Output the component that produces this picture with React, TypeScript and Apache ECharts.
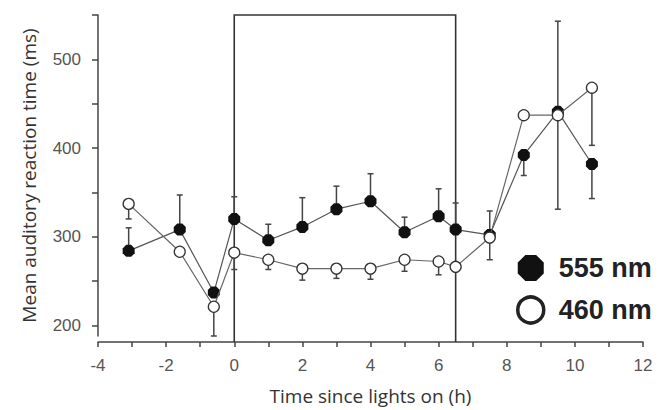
import React, { useEffect, useRef } from "react";
import * as echarts from "echarts";

// Time since lights on (h)
const times = [-3.1, -1.6, -0.6, 0, 1, 2, 3, 4, 5, 6, 6.5, 7.5, 8.5, 9.5, 10.5];
// Mean auditory reaction time (ms)
const rt555 = [284, 308, 237, 320, 296, 311, 331, 340, 305, 323, 308, 302, 392, 441, 382];
const rt460 = [337, 283, 221, 282, 274, 264, 264, 264, 274, 272, 266, 299, 437, 437, 468];
// End value of each one-sided error bar (null = no visible bar)
const err555 = [310, 347, null, 345, 314, 344, 357, 371, 322, 354, 338, 329, 369, 543, 343];
const err460 = [320, null, 188, 263, 263, 251, 253, 252, 261, 257, null, 274, null, 331, 403];

const yTickValues = [200, 250, 300, 350, 400, 450, 500, 550];
const yLabelValues = [200, 300, 400, 500];
const Y_MIN = 188;
const Y_MAX = 550;
const X_MIN = -4;
const X_MAX = 12;
const lightsPeriod = [0, 6.5];

const OCT = "path://M2.93,0 L7.07,0 L10,2.93 L10,7.07 L7.07,10 L2.93,10 L0,7.07 L0,2.93 Z";

function errRender(color: string) {
  return (params: any, api: any) => {
    const x = api.value(0);
    const y = api.value(1);
    const e = api.value(2);
    const p = api.coord([x, y]);
    const q = api.coord([x, e]);
    const st = { stroke: color, lineWidth: 1.5 };
    return {
      type: "group",
      children: [
        { type: "line", shape: { x1: p[0], y1: p[1], x2: q[0], y2: q[1] }, style: st },
        { type: "line", shape: { x1: q[0] - 3, y1: q[1], x2: q[0] + 3, y2: q[1] }, style: st },
      ],
    };
  };
}

export default function App() {
  const ref = useRef<HTMLDivElement>(null);
  useEffect(() => {
    if (!ref.current) return;
    const chart = echarts.init(ref.current, null, { renderer: "svg" });
    const e555 = times
      .map((t, i) => [t, rt555[i], err555[i]])
      .filter((d) => d[2] !== null);
    const e460 = times
      .map((t, i) => [t, rt460[i], err460[i]])
      .filter((d) => d[2] !== null);
    chart.setOption({
      animation: false,
      backgroundColor: "#fff",
      grid: { left: 98, right: 16, top: 15, bottom: 73 },
      xAxis: {
        type: "value",
        min: X_MIN,
        max: X_MAX,
        interval: 1,
        offset: 6,
        name: "Time since lights on (h)",
        nameLocation: "middle",
        nameGap: 44,
        nameTextStyle: { fontFamily: "Open Sans", fontSize: 19, color: "#333" },
        axisLine: { onZero: false, lineStyle: { color: "#444", width: 1.5 } },
        axisTick: { length: 5, lineStyle: { color: "#444", width: 1.5 } },
        axisLabel: {
          margin: 15,
          fontFamily: "Liberation Sans",
          fontSize: 17,
          color: "#555",
          formatter: (v: number) => (v % 2 === 0 ? String(v) : ""),
        },
        splitLine: { show: false },
      },
      yAxis: {
        type: "value",
        min: Y_MIN,
        max: Y_MAX,
        name: "Mean auditory reaction time (ms)",
        nameLocation: "middle",
        nameGap: 60,
        nameTextStyle: { fontFamily: "Open Sans", fontSize: 19, color: "#333" },
        axisLine: { show: true, onZero: false, lineStyle: { color: "#444", width: 1.5 } },
        axisTick: {
          show: true,
          length: 6,
          customValues: yTickValues,
          lineStyle: { color: "#444", width: 1.5 },
        },
        axisLabel: {
          margin: 17,
          fontFamily: "Liberation Sans",
          fontSize: 17,
          color: "#555",
          customValues: yLabelValues,
        },
        splitLine: { show: false },
      },
      legend: {
        orient: "vertical",
        left: 511,
        top: 248,
        itemWidth: 26,
        itemHeight: 26,
        itemGap: 12,
        selectedMode: false,
        textStyle: {
          fontFamily: "Liberation Sans",
          fontWeight: "bold",
          fontSize: 27,
          lineHeight: 30,
          color: "#222",
          padding: [0, 0, 0, 10],
        },
        data: [
          { name: "555 nm", icon: OCT, itemStyle: { color: "#111", borderWidth: 0 } },
          {
            name: "460 nm",
            icon: "circle",
            itemStyle: { color: "#fff", borderColor: "#222", borderWidth: 3.5 },
          },
        ],
      },
      series: [
        {
          type: "custom",
          name: "lights",
          silent: true,
          clip: false,
          data: [lightsPeriod],
          renderItem: (params: any, api: any) => {
            const a = api.value(0);
            const b = api.value(1);
            const pTopA = api.coord([a, Y_MAX]);
            const pBotA = api.coord([a, Y_MIN]);
            const pTopB = api.coord([b, Y_MAX]);
            const pBotB = api.coord([b, Y_MIN]);
            return {
              type: "polyline",
              shape: {
                points: [
                  [pBotA[0], pBotA[1] + 6],
                  pTopA,
                  pTopB,
                  [pBotB[0], pBotB[1] + 6],
                ],
              },
              style: { stroke: "#333", lineWidth: 1.6, fill: null },
            };
          },
          z: 1,
        },
        {
          type: "custom",
          name: "err555",
          silent: true,
          data: e555,
          renderItem: errRender("#444"),
          z: 2,
        },
        {
          type: "custom",
          name: "err460",
          silent: true,
          data: e460,
          renderItem: errRender("#444"),
          z: 2,
        },
        {
          type: "line",
          name: "555 nm",
          data: times.map((t, i) => [t, rt555[i]]),
          symbol: OCT,
          symbolSize: 12,
          itemStyle: { color: "#111" },
          lineStyle: { color: "#555", width: 1.2 },
          z: 3,
        },
        {
          type: "line",
          name: "460 nm",
          data: times.map((t, i) => [t, rt460[i]]),
          symbol: "circle",
          symbolSize: 11,
          showAllSymbol: true,
          itemStyle: { color: "#fff", borderColor: "#333", borderWidth: 1.3 },
          lineStyle: { color: "#666", width: 1.2 },
          z: 4,
        },
      ],
    });
    return () => chart.dispose();
  }, []);
  return <div ref={ref} style={{ width: 659, height: 410, position: "absolute", left: 0, top: 0 }} />;
}
